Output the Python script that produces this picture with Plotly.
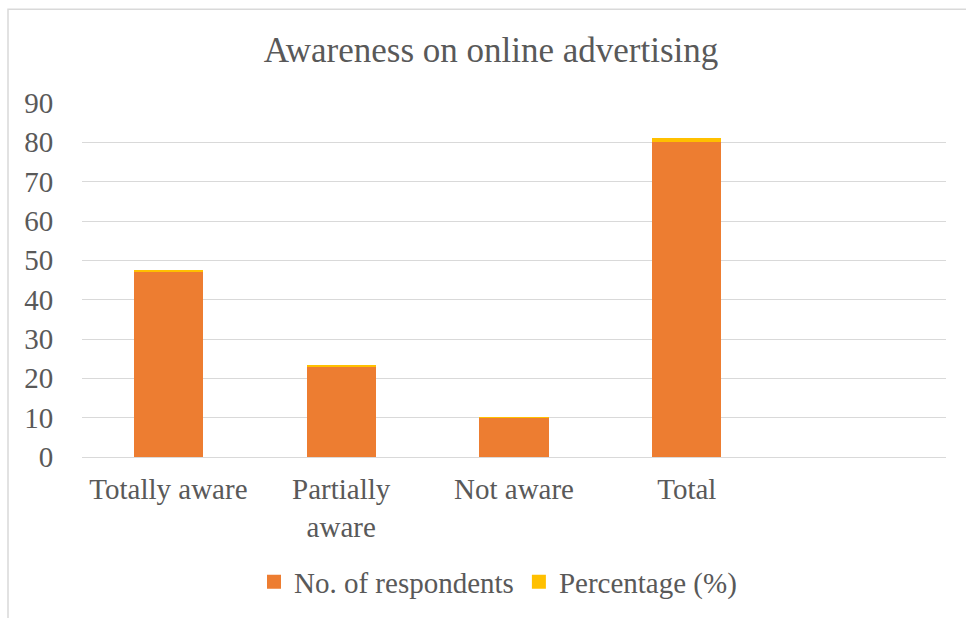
import plotly.graph_objects as go

categories = ["Totally aware", "Partially<br>aware", "Not aware", "Total"]
respondents = [47, 23, 10, 80]
percentage = [0.5875, 0.2875, 0.125, 1.0]
series_names = ["No. of respondents", "Percentage (%)"]
colors = ["#ED7D31", "#FFC000"]

W, H = 966, 618
L, R, T, B = 82, 20, 103, 160
pw, ph = W - L - R, H - T - B

font = "Liberation Serif, Times New Roman, serif"
gray = "#595959"
fs = 29

fig = go.Figure()
for vals, name, col in zip([respondents, percentage], series_names, colors):
    fig.add_trace(go.Bar(x=categories, y=vals, name=name, showlegend=False,
                         marker=dict(color=col, line=dict(width=0))))
for name, col in zip(series_names, colors):
    fig.add_trace(go.Scatter(x=[None], y=[None], mode="markers", name=name,
                             marker=dict(symbol="square", size=14, color=col)))

fig.update_layout(
    width=W, height=H,
    margin=dict(l=L, r=R, t=T, b=B),
    barmode="stack", bargap=0.6,
    paper_bgcolor="white", plot_bgcolor="white",
    font=dict(family=font, color=gray, size=fs),
    title=dict(text="Awareness on online advertising", x=491 / W, xanchor="center",
               y=1 - 50 / H, yanchor="middle", yref="container",
               font=dict(size=35, color=gray, family=font)),
    xaxis=dict(range=[-0.5, 4.5], showgrid=False, showline=True, linecolor="#d9d9d9",
               linewidth=1, ticks="outside", ticklen=6, tickcolor="rgba(0,0,0,0)",
               tickfont=dict(size=fs, color=gray, family=font), fixedrange=True),
    yaxis=dict(range=[0, 90], dtick=10, showgrid=True, gridcolor="#d9d9d9", gridwidth=1,
               zeroline=True, zerolinecolor="#d9d9d9", zerolinewidth=1,
               ticks="outside", ticklen=22, tickcolor="rgba(0,0,0,0)",
               tickfont=dict(size=fs, color=gray, family=font)),
    legend=dict(orientation="h", x=(498 - L) / pw, xanchor="center",
                y=(H - B - 582) / ph, yanchor="middle",
                font=dict(size=fs, color=gray, family=font),
                itemwidth=30, traceorder="normal"),
    showlegend=True,
)

fig.add_shape(type="rect", xref="paper", yref="paper",
              x0=(8 - L) / pw, x1=1.2, y0=(H - B - 9) / ph, y1=-0.6,
              line=dict(color="#d9d9d9", width=1.5), fillcolor="rgba(0,0,0,0)", layer="above")

fig.write_html("out.html")
